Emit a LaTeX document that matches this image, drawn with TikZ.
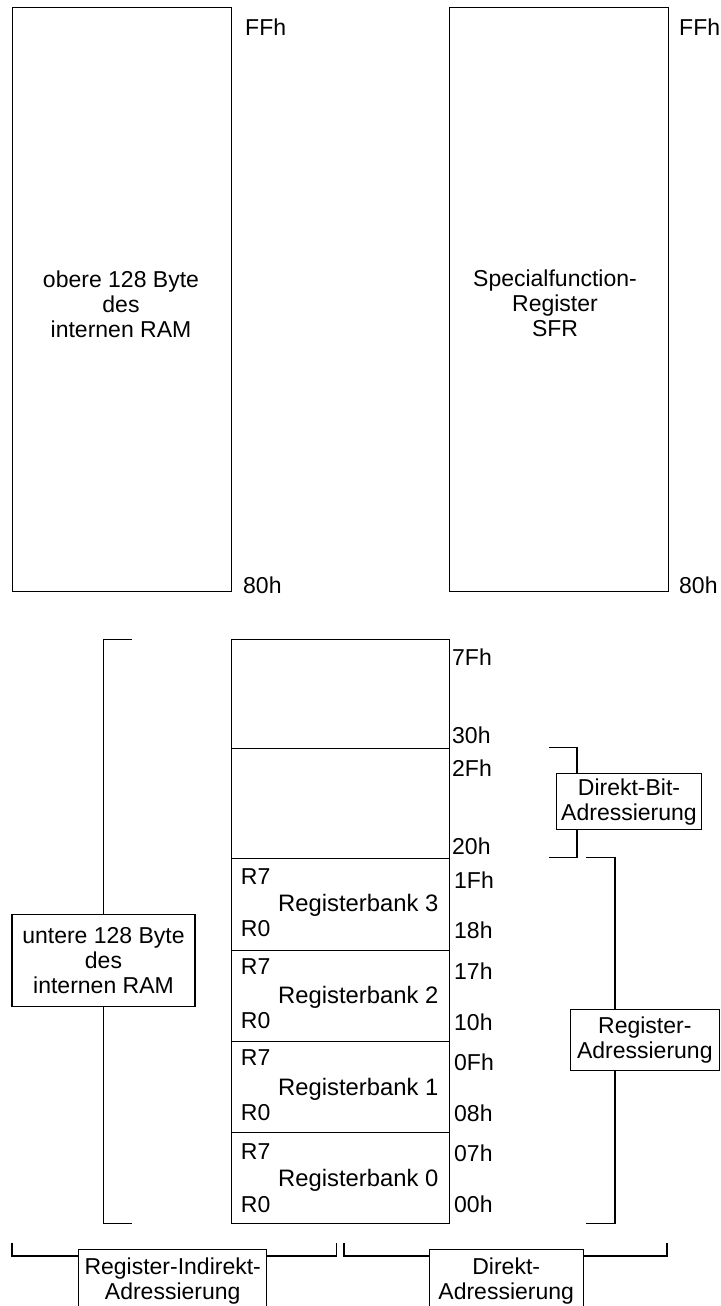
\documentclass[tikz,border=0pt]{standalone}
\usepackage{fontspec}
\setmainfont{Liberation Sans}
\begin{document}
\begin{tikzpicture}[x=1pt,y=-1pt,
  every node/.style={font=\fontsize{23}{25}\selectfont},
  area/.style={draw, line width=1.1pt, inner sep=0pt, anchor=north west},
  tag/.style={inner sep=0pt, anchor=west, text height=16.5pt, text depth=0pt},
  banklbl/.style={tag, font=\fontsize{23.8}{25}\selectfont},
  labelbox/.style={draw, fill=white, line width=1.1pt, inner sep=0pt, align=center},
  brace/.style={line width=1.1pt}]
\clip (0,0) rectangle (720,1306);

% ---- upper 128 bytes: internal RAM and SFR space ----
\node[area, minimum width=218.5pt, minimum height=583.4pt] (uram) at (12,7.3) {};
\node[area, minimum width=219pt, minimum height=583.4pt] (sfr) at (448.5,7.3) {};
\node[align=center] (uramlbl) at (121,304) {obere 128 Byte\\des\\internen RAM};
\node[align=center] (sfrlbl) at (555,303) {Specialfunction-\\Register\\SFR};
\node[tag] (uramtop) at (245,27) {FFh};
\node[tag] (uramend) at (243,585) {80h};
\node[tag] (sfrtop) at (679,27) {FFh};
\node[tag] (sfrend) at (679,585) {80h};

% ---- lower 128 bytes ----
\node[area, minimum width=218.3pt, minimum height=108.4pt] (free) at (230.7,639.3) {};
\node[area, minimum width=218.3pt, minimum height=110.6pt] (bitmem) at (230.7,747.7) {};
\node[area, minimum width=218.3pt, minimum height=91.3pt] (bank3) at (230.7,858.3) {};
\node[area, minimum width=218.3pt, minimum height=91.3pt] (bank2) at (230.7,949.6) {};
\node[area, minimum width=218.3pt, minimum height=91.3pt] (bank1) at (230.7,1040.9) {};
\node[area, minimum width=218.3pt, minimum height=91.1pt] (bank0) at (230.7,1132.2) {};

% register banks
\node[tag] (b3r7) at (240.7,876) {R7};
\node[tag] (b3r0) at (240.7,928) {R0};
\node[banklbl] (b3lbl) at (278,903) {Registerbank 3};
\node[tag] (b2r7) at (240.7,966) {R7};
\node[tag] (b2r0) at (240.7,1020) {R0};
\node[banklbl] (b2lbl) at (278,995) {Registerbank 2};
\node[tag] (b1r7) at (240.7,1057) {R7};
\node[tag] (b1r0) at (240.7,1112) {R0};
\node[banklbl] (b1lbl) at (278,1087) {Registerbank 1};
\node[tag] (b0r7) at (240.7,1151) {R7};
\node[tag] (b0r0) at (240.7,1204) {R0};
\node[banklbl] (b0lbl) at (278,1178) {Registerbank 0};

% addresses
\node[tag] (a7f) at (452,657) {7Fh};
\node[tag] (a30) at (452,735) {30h};
\node[tag] (a2f) at (452,768) {2Fh};
\node[tag] (a20) at (452,846) {20h};
\node[tag] (a1f) at (454,880) {1Fh};
\node[tag] (a18) at (454,930) {18h};
\node[tag] (a17) at (454,971) {17h};
\node[tag] (a10) at (454,1022) {10h};
\node[tag] (a0f) at (454,1062) {0Fh};
\node[tag] (a08) at (454,1113) {08h};
\node[tag] (a07) at (454,1153) {07h};
\node[tag] (a00) at (454,1204) {00h};

% ---- brackets with their addressing modes ----
\coordinate (ltop) at (131.7,639.3);
\coordinate (lbot) at (131.7,1223.3);
\node[labelbox, minimum width=183pt, minimum height=92.4pt] (lowram) at (103.5,960.5)
  {untere 128 Byte\\des\\internen RAM};
\draw[brace] (ltop) -| (lowram.north);
\draw[brace] (lowram.south) |- (lbot);

\coordinate (dbt) at (549,747.5);
\coordinate (dbb) at (549,857.5);
\draw[brace] (dbt) -| (577,857.5) -- (dbb);
\node[labelbox, minimum width=144.3pt, minimum height=56pt] (bitbox) at (629,801.7)
  {Direkt-Bit-\\Adressierung};

\coordinate (rgt) at (586,857.5);
\coordinate (rgb) at (586,1223.3);
\draw[brace] (rgt) -| (615,1223.3) -- (rgb);
\node[labelbox, minimum width=149pt, minimum height=60.7pt] (regbox) at (644.8,1039.7)
  {Register-\\Adressierung};

\coordinate (il) at (12,1242.7);
\coordinate (ir) at (336.7,1242.7);
\draw[brace] (il) |- (336.7,1256) -- (ir);
\node[labelbox, minimum width=188pt, minimum height=64.4pt] (indbox) at (172.7,1281.5)
  {Register-Indirekt-\\Adressierung};

\coordinate (dl) at (344,1242.7);
\coordinate (dr) at (667,1242.7);
\draw[brace] (dl) |- (667,1256) -- (dr);
\node[labelbox, minimum width=154.3pt, minimum height=64.4pt] (dirbox) at (506.2,1281.5)
  {Direkt-\\Adressierung};
\end{tikzpicture}
\end{document}
